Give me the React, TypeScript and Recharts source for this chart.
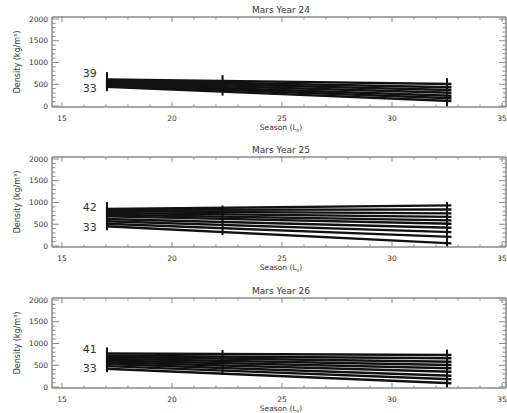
import { LineChart, Line, XAxis, YAxis, ReferenceDot } from "recharts";

const FONT = "DejaVu Sans, sans-serif";
const AXIS = "#8a8a8a";
const INK = "#333";

const seasonDomain = [14.55, 35.18];
const densityDomain = [-23, 2046];
const seasonTicks = [15, 16, 17, 18, 19, 20, 21, 22, 23, 24, 25, 26, 27, 28, 29, 30, 31, 32, 33, 34, 35];
const seasonLabels = [15, 20, 25, 30, 35];
const densityTicks = [0, 100, 200, 300, 400, 500, 600, 700, 800, 900, 1000, 1100, 1200, 1300, 1400, 1500, 1600, 1700, 1800, 1900, 2000];
const densityLabels = [0, 500, 1000, 1500, 2000];

// every profile runs from the first to the last observation
const lineStartLs = 17.0;
const lineEndLs = 32.7;
const barLs = [17.05, 22.3, 32.5];
const labelLs = 16.27;

// Mars Year 24
const lat24 = [39, 38, 37, 36, 35, 34, 33];
const start24 = [612, 585, 560, 530, 500, 470, 440];
const end24 = [506, 430, 368, 306, 237, 177, 115];
const barLow24 = [340, 240, -20];
const barHigh24 = [780, 710, 640];
const labelY24 = [759, 414];

// Mars Year 25
const lat25 = [42, 41, 40, 39, 38, 37, 36, 35, 34, 33];
const start25 = [850, 830, 800, 760, 720, 680, 620, 570, 510, 455];
const end25 = [935, 840, 750, 670, 590, 510, 420, 320, 210, 60];
const barLow25 = [360, 250, -20];
const barHigh25 = [1010, 930, 1010];
const labelY25 = [897, 437];

// Mars Year 26
const lat26 = [41, 40, 39, 38, 37, 36, 35, 34, 33];
const start26 = [770, 720, 690, 650, 610, 570, 530, 480, 420];
const end26 = [736, 660, 582, 506, 430, 352, 260, 177, 85];
const barLow26 = [340, 280, -20];
const barHigh26 = [910, 850, 860];
const labelY26 = [874, 437];

function SeasonTick(props: any) {
  const { x, y, payload, side } = props;
  const v = payload.value;
  const major = seasonLabels.includes(v);
  const len = major ? 5 : 2.5;
  const dir = side === "top" ? 1 : -1;
  return (
    <g>
      <line x1={x} x2={x} y1={y} y2={y + dir * len} stroke={AXIS} strokeWidth={1} />
      {side === "bottom" && major && (
        <text x={x} y={y + 14} textAnchor="middle" fontSize={7.5} fill={INK} fontFamily={FONT}>
          {v}
        </text>
      )}
    </g>
  );
}

function DensityTick(props: any) {
  const { x, y, payload, side } = props;
  const v = payload.value;
  const major = densityLabels.includes(v);
  const len = major ? 7 : 3.5;
  const dir = side === "right" ? -1 : 1;
  return (
    <g>
      <line x1={x} x2={x + dir * len} y1={y} y2={y} stroke={AXIS} strokeWidth={1} />
      {side === "left" && major && (
        <text x={x - 4} y={y} dy="0.36em" textAnchor="end" fontSize={7.5} fill={INK} fontFamily={FONT}>
          {v}
        </text>
      )}
    </g>
  );
}

function Panel(props: any) {
  const { top, title, lats, starts, ends, barLow, barHigh, labelY } = props;
  const profiles = lats.map((lat: number, i: number) => ({
    lat,
    points: [
      { x: lineStartLs, y: starts[i] },
      { x: lineEndLs, y: ends[i] },
    ],
  }));
  return (
    <div style={{ position: "absolute", left: 0, top }}>
      <LineChart width={507} height={140} margin={{ top: 16, right: 0, bottom: 0, left: 0 }}>
        <XAxis
          type="number"
          dataKey="x"
          domain={seasonDomain}
          allowDataOverflow
          ticks={seasonTicks}
          interval={0}
          height={33}
          tickSize={0}
          tickMargin={0}
          tickLine={false}
          axisLine={{ stroke: AXIS, strokeWidth: 1.5 }}
          tick={<SeasonTick side="bottom" />}
          label={(p: any) => (
            <text x={p.viewBox.x + p.viewBox.width / 2 + 2} y={p.viewBox.y + 23} textAnchor="middle" fontSize={7.5} fill={INK} fontFamily={FONT}>
              Season (L<tspan fontSize={5} dy={2}>s</tspan><tspan dy={-2}>)</tspan>
            </text>
          )}
        />
        <XAxis
          xAxisId="top"
          orientation="top"
          type="number"
          dataKey="x"
          domain={seasonDomain}
          allowDataOverflow
          ticks={seasonTicks}
          interval={0}
          height={1}
          tickSize={0}
          tickMargin={0}
          tickLine={false}
          axisLine={{ stroke: AXIS, strokeWidth: 1.5 }}
          tick={<SeasonTick side="top" />}
          label={(p: any) => (
            <text x={p.viewBox.x + p.viewBox.width / 2 + 2} y={p.viewBox.y - 3} textAnchor="middle" fontSize={9} fill={INK} fontFamily={FONT}>
              {title}
            </text>
          )}
        />
        <YAxis
          type="number"
          domain={densityDomain}
          allowDataOverflow
          ticks={densityTicks}
          interval={0}
          width={52}
          tickSize={0}
          tickMargin={0}
          tickLine={false}
          axisLine={{ stroke: AXIS, strokeWidth: 1.5 }}
          tick={<DensityTick side="left" />}
          label={(p: any) => {
            const cx = p.viewBox.x + 17;
            const cy = p.viewBox.y + p.viewBox.height / 2;
            return (
              <text x={cx} y={cy} dy="0.35em" transform={`rotate(-90, ${cx}, ${cy})`} textAnchor="middle" fontSize={8} fill={INK} fontFamily={FONT}>
                Density (kg/m³)
              </text>
            );
          }}
        />
        <YAxis
          yAxisId="right"
          orientation="right"
          type="number"
          domain={densityDomain}
          allowDataOverflow
          ticks={densityTicks}
          interval={0}
          width={1}
          tickSize={0}
          tickMargin={0}
          tickLine={false}
          axisLine={{ stroke: AXIS, strokeWidth: 1.5 }}
          tick={<DensityTick side="right" />}
        />
        {/* the same first profile, unstroked, ties the top and right frame axes to data */}
        <Line
          xAxisId="top"
          yAxisId="right"
          data={profiles[0].points}
          dataKey="y"
          stroke="none"
          dot={false}
          legendType="none"
          isAnimationActive={false}
        />
        {profiles.map((p: any) => (
          <Line
            key={"lat" + p.lat}
            data={p.points}
            dataKey="y"
            stroke="#111"
            strokeWidth={2.4}
            dot={false}
            isAnimationActive={false}
          />
        ))}
        {barLs.map((ls: number, i: number) => (
          <Line
            key={"bar" + i}
            data={[
              { x: ls, y: barLow[i] },
              { x: ls, y: barHigh[i] },
            ]}
            dataKey="y"
            stroke="#111"
            strokeWidth={2}
            dot={false}
            isAnimationActive={false}
          />
        ))}
        <ReferenceDot x={labelLs} y={labelY[0]} r={0} stroke="none" fill="none"
          label={{ value: String(lats[0]), position: "center", fill: INK, fontSize: 11, fontFamily: FONT }} />
        <ReferenceDot x={labelLs} y={labelY[1]} r={0} stroke="none" fill="none"
          label={{ value: String(lats[lats.length - 1]), position: "center", fill: INK, fontSize: 11, fontFamily: FONT }} />
      </LineChart>
    </div>
  );
}

export default function App() {
  return (
    <div style={{ position: "absolute", left: 0, top: 0, width: 507, height: 413, background: "#fff" }}>
      <Panel top={0} title="Mars Year 24" lats={lat24} starts={start24} ends={end24} barLow={barLow24} barHigh={barHigh24} labelY={labelY24} />
      <Panel top={140} title="Mars Year 25" lats={lat25} starts={start25} ends={end25} barLow={barLow25} barHigh={barHigh25} labelY={labelY25} />
      <Panel top={281} title="Mars Year 26" lats={lat26} starts={start26} ends={end26} barLow={barLow26} barHigh={barHigh26} labelY={labelY26} />
    </div>
  );
}
